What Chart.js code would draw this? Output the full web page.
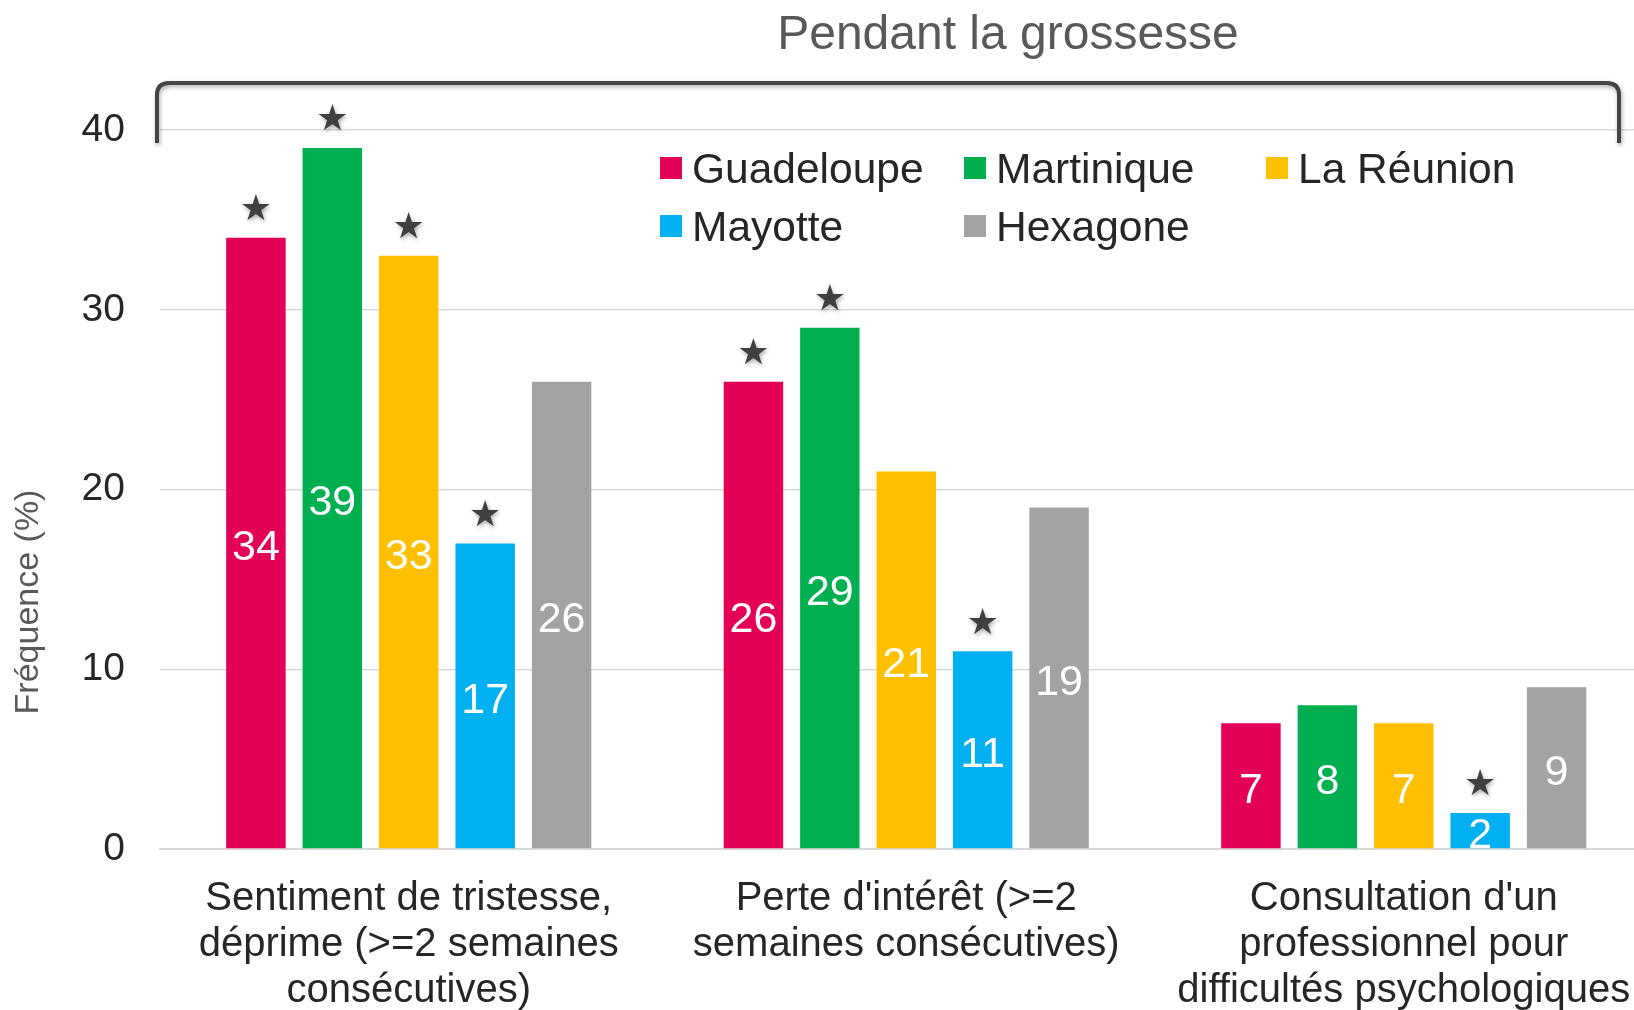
<!DOCTYPE html>
<html>
<head>
<meta charset="utf-8">
<script src="https://cdn.jsdelivr.net/npm/chart.js@4.4.1/dist/chart.umd.min.js"></script>
<style>
html, body { margin: 0; padding: 0; overflow: hidden; background: #fff; }
#c { display: block; }
</style>
</head>
<body>
<canvas id="c" width="1660" height="1040"></canvas>
<script>
// data
var categories = [
    ["Sentiment de tristesse,", "déprime (>=2 semaines", "consécutives)"],
    ["Perte d'intérêt (>=2", "semaines consécutives)"],
    ["Consultation d'un", "professionnel pour", "difficultés psychologiques"]
];
var regions = ["Guadeloupe", "Martinique", "La Réunion", "Mayotte", "Hexagone"];
var guadeloupe = [34, 26, 7];
var martinique = [39, 29, 8];
var reunion = [33, 21, 7];
var mayotte = [17, 11, 2];
var hexagone = [26, 19, 9];
// significant difference marker (star) per region
var starGuadeloupe = [true, true, false];
var starMartinique = [true, true, false];
var starReunion = [true, false, false];
var starMayotte = [true, true, true];
var starHexagone = [false, false, false];
var yTicks = [0, 10, 20, 30, 40];

var colors = ['#E40056', '#00B050', '#FFC000', '#00B0F0', '#A3A3A3'];
var FONT = '"Liberation Sans", Arial, sans-serif';
var values = [guadeloupe, martinique, reunion, mayotte, hexagone];
var stars = [starGuadeloupe, starMartinique, starReunion, starMayotte, starHexagone];

var datasets = [];
for (var i = 0; i < regions.length; i++) {
    datasets.push({
        label: regions[i],
        data: values[i],
        stars: stars[i],
        backgroundColor: colors[i],
        borderWidth: 0,
        categoryPercentage: 0.768,
        barPercentage: 0.778
    });
}

var extras = {
    id: 'extras',
    afterDatasetsDraw: function (chart) {
        var ctx = chart.ctx;
        ctx.save();
        // values inside bars + stars
        chart.data.datasets.forEach(function (ds, di) {
            var meta = chart.getDatasetMeta(di);
            meta.data.forEach(function (bar, j) {
                ctx.fillStyle = '#fff';
                ctx.font = '43px ' + FONT;
                ctx.textAlign = 'center';
                ctx.textBaseline = 'middle';
                ctx.fillText(String(ds.data[j]), bar.x, (bar.y + bar.base) / 2 + 5);
                if (ds.stars[j]) {
                    ctx.save();
                    ctx.shadowColor = 'rgba(0,0,0,0.35)';
                    ctx.shadowBlur = 4;
                    ctx.shadowOffsetX = 1;
                    ctx.shadowOffsetY = 2;
                    ctx.fillStyle = '#404040';
                    ctx.font = '36px "DejaVu Sans"';
                    ctx.fillText('★', bar.x, bar.y - 27);
                    ctx.restore();
                }
            });
        });
        ctx.restore();
    },
    afterDraw: function (chart) {
        var ctx = chart.ctx;
        ctx.save();
        // bracket
        ctx.shadowColor = 'rgba(0,0,0,0.35)';
        ctx.shadowBlur = 4;
        ctx.shadowOffsetX = 1;
        ctx.shadowOffsetY = 2;
        ctx.strokeStyle = '#444';
        ctx.lineWidth = 4;
        ctx.beginPath();
        var l = 157, r = 1619, t = 83, b = 143;
        ctx.moveTo(l, b);
        ctx.lineTo(l, t + 12);
        ctx.quadraticCurveTo(l, t, l + 12, t);
        ctx.lineTo(r - 12, t);
        ctx.quadraticCurveTo(r, t, r, t + 12);
        ctx.lineTo(r, b);
        ctx.stroke();
        ctx.restore();

        ctx.save();
        ctx.fillStyle = '#595959';
        ctx.font = '48px ' + FONT;
        ctx.textAlign = 'center';
        ctx.textBaseline = 'alphabetic';
        ctx.fillText('Pendant la grossesse', 1008, 49);

        // y axis title
        ctx.save();
        ctx.translate(29, 602);
        ctx.rotate(-Math.PI / 2);
        ctx.font = '34px ' + FONT;
        ctx.textBaseline = 'middle';
        ctx.fillText('Fréquence (%)', 0, 0);
        ctx.restore();

        // legend
        var cols = [660, 964, 1266];
        var rows = [168, 226];
        ctx.font = '42.5px ' + FONT;
        ctx.textAlign = 'left';
        ctx.textBaseline = 'middle';
        chart.data.datasets.forEach(function (ds, i) {
            var x = cols[i % 3], y = rows[Math.floor(i / 3)];
            ctx.fillStyle = ds.backgroundColor;
            ctx.fillRect(x, y - 11, 22, 22);
            ctx.fillStyle = '#262626';
            ctx.fillText(ds.label, x + 32, y + 3);
        });
        ctx.restore();
    }
};

new Chart(document.getElementById('c'), {
    type: 'bar',
    data: { labels: categories, datasets: datasets },
    options: {
        responsive: false,
        animation: false,
        events: [],
        layout: { padding: { left: 0, right: 7.5, top: 130, bottom: 0 } },
        plugins: { legend: { display: false }, tooltip: { enabled: false } },
        scales: {
            x: {
                grid: { display: false, drawTicks: false },
                border: { display: true, color: '#d9d9d9', width: 2 },
                ticks: {
                    color: '#262626',
                    font: { family: FONT, size: 40, lineHeight: 1.15 },
                    padding: 27,
                    maxRotation: 0,
                    autoSkip: false
                },
                afterFit: function (s) { s.height = 191; }
            },
            y: {
                min: 0,
                max: 40,
                afterBuildTicks: function (s) { s.ticks = yTicks.map(function (v) { return { value: v }; }); },
                grid: { color: '#d9d9d9', lineWidth: 1.5, drawTicks: false },
                border: { display: false },
                ticks: {
                    color: '#262626',
                    font: { family: FONT, size: 39 },
                    padding: 35
                },
                afterFit: function (s) { s.width = 160; }
            }
        }
    },
    plugins: [extras]
});
</script>
</body>
</html>
